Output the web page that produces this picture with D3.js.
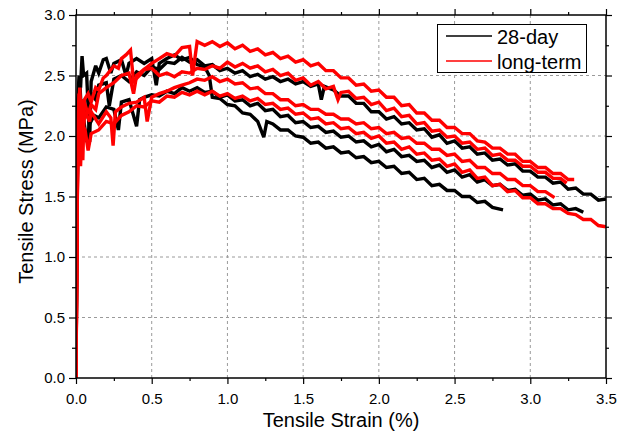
<!DOCTYPE html>
<html>
<head>
<meta charset="utf-8">
<script src="https://cdn.jsdelivr.net/npm/d3@7/dist/d3.min.js"></script>
<style>
  html, body { margin: 0; padding: 0; background: #fff; }
  svg { display: block; font-family: "Liberation Sans", Arial, Helvetica, sans-serif; }
</style>
</head>
<body>
<svg id="chart" width="617" height="432"></svg>
<script>
// ---- Data (strain %, stress MPa) ----
const xTicks = [0, 0.5, 1.0, 1.5, 2.0, 2.5, 3.0, 3.5];
const xMinorTicks = [0.25, 0.75, 1.25, 1.75, 2.25, 2.75, 3.25];
const yTicks = [0, 0.5, 1.0, 1.5, 2.0, 2.5, 3.0];
const yMinorTicks = [0.25, 0.75, 1.25, 1.75, 2.25, 2.75];
const legendLabels = ["28-day", "long-term"];
const seriesColors = ["#000000", "#ff0000"];

const black1 = [[0,0],[0.008,1.6],[0.015,2.3],[0.025,2.45],[0.035,2.2],[0.05,2.3],[0.07,2.15],[0.1,2.35],[0.13,2.3],[0.15,2.42],[0.2,2.44],[0.22,2.25],[0.25,2.47],[0.3,2.5],[0.35,2.45],[0.4,2.53],[0.45,2.5],[0.5,2.57],[0.55,2.55],[0.6,2.61],[0.65,2.6],[0.7,2.65],[0.75,2.61],[0.8,2.63],[0.85,2.58],[0.9,2.59],[0.95,2.54],[1.0,2.56],[1.05,2.52],[1.1,2.54],[1.15,2.49],[1.2,2.51],[1.25,2.47],[1.3,2.49],[1.35,2.45],[1.4,2.47],[1.45,2.43],[1.5,2.45],[1.55,2.41],[1.6,2.43],[1.62,2.3],[1.64,2.41],[1.7,2.38],[1.75,2.33],[1.8,2.33],[1.85,2.27],[1.9,2.27],[1.95,2.2],[2.0,2.2],[2.05,2.14],[2.1,2.16],[2.15,2.1],[2.2,2.11],[2.25,2.05],[2.3,2.06],[2.35,1.99],[2.4,2.01],[2.45,1.94],[2.5,1.96],[2.55,1.9],[2.6,1.91],[2.65,1.85],[2.7,1.86],[2.75,1.8],[2.8,1.81],[2.85,1.76],[2.9,1.77],[2.95,1.71],[3.0,1.71],[3.05,1.66],[3.1,1.66],[3.15,1.61],[3.2,1.62],[3.25,1.56],[3.3,1.57],[3.35,1.52],[3.4,1.52],[3.45,1.47],[3.5,1.48]];

const black2 = [[0,0],[0.006,1.5],[0.012,2.3],[0.02,2.5],[0.03,2.4],[0.04,2.66],[0.05,2.5],[0.07,2.52],[0.09,1.95],[0.1,2.45],[0.13,2.58],[0.15,2.52],[0.18,2.63],[0.2,2.64],[0.23,2.52],[0.25,2.6],[0.3,2.63],[0.33,2.5],[0.35,2.6],[0.4,2.64],[0.45,2.6],[0.5,2.64],[0.53,2.42],[0.55,2.6],[0.6,2.64],[0.65,2.67],[0.7,2.63],[0.75,2.65],[0.8,2.59],[0.85,2.57],[0.88,2.5],[0.9,2.32],[0.95,2.31],[1.0,2.26],[1.05,2.25],[1.1,2.19],[1.15,2.18],[1.2,2.12],[1.24,1.99],[1.26,2.12],[1.3,2.1],[1.35,2.05],[1.4,2.05],[1.45,2.0],[1.5,1.99],[1.55,1.94],[1.6,1.95],[1.65,1.9],[1.7,1.91],[1.75,1.86],[1.8,1.87],[1.85,1.82],[1.9,1.83],[1.95,1.78],[2.0,1.79],[2.05,1.74],[2.1,1.75],[2.15,1.69],[2.2,1.7],[2.25,1.64],[2.3,1.65],[2.35,1.59],[2.4,1.6],[2.45,1.55],[2.5,1.55],[2.55,1.5],[2.6,1.5],[2.65,1.45],[2.7,1.46],[2.75,1.41],[2.82,1.39]];

const black3 = [[0,0],[0.006,1.3],[0.012,2.0],[0.02,2.2],[0.03,2.0],[0.05,2.15],[0.07,1.95],[0.09,2.1],[0.12,2.17],[0.15,2.15],[0.2,2.24],[0.25,2.22],[0.28,2.05],[0.3,2.28],[0.35,2.3],[0.4,2.08],[0.42,2.3],[0.45,2.32],[0.5,2.34],[0.55,2.33],[0.6,2.37],[0.65,2.35],[0.7,2.4],[0.75,2.37],[0.8,2.4],[0.85,2.36],[0.9,2.37],[0.95,2.32],[1.0,2.34],[1.05,2.29],[1.1,2.3],[1.15,2.25],[1.2,2.27],[1.25,2.21],[1.3,2.22],[1.35,2.16],[1.4,2.17],[1.45,2.11],[1.5,2.12],[1.55,2.07],[1.6,2.08],[1.65,2.03],[1.7,2.04],[1.75,1.99],[1.8,2.0],[1.85,1.95],[1.9,1.96],[1.95,1.91],[2.0,1.93],[2.05,1.87],[2.1,1.89],[2.15,1.83],[2.2,1.84],[2.25,1.79],[2.3,1.8],[2.35,1.74],[2.4,1.76],[2.45,1.7],[2.5,1.72],[2.55,1.66],[2.6,1.68],[2.65,1.62],[2.7,1.64],[2.75,1.59],[2.8,1.6],[2.85,1.55],[2.9,1.56],[2.95,1.51],[3.0,1.52],[3.05,1.47],[3.1,1.48],[3.15,1.43],[3.2,1.44],[3.25,1.39],[3.3,1.4],[3.35,1.37]];

const red1 = [[0,0],[0.005,1.0],[0.012,2.0],[0.02,2.35],[0.035,2.2],[0.045,1.8],[0.055,2.3],[0.08,2.35],[0.1,2.28],[0.13,2.4],[0.15,2.38],[0.18,2.48],[0.2,2.5],[0.25,2.58],[0.28,2.56],[0.3,2.64],[0.33,2.67],[0.36,2.71],[0.38,2.45],[0.42,2.5],[0.45,2.55],[0.5,2.6],[0.55,2.64],[0.6,2.68],[0.65,2.66],[0.7,2.73],[0.75,2.74],[0.77,2.5],[0.8,2.78],[0.85,2.75],[0.9,2.78],[0.95,2.74],[1.0,2.77],[1.05,2.72],[1.1,2.75],[1.15,2.7],[1.2,2.72],[1.25,2.67],[1.3,2.69],[1.35,2.64],[1.4,2.66],[1.45,2.61],[1.5,2.63],[1.55,2.58],[1.6,2.6],[1.65,2.54],[1.7,2.54],[1.75,2.48],[1.8,2.48],[1.85,2.42],[1.9,2.43],[1.95,2.37],[2.0,2.38],[2.05,2.32],[2.1,2.32],[2.15,2.25],[2.2,2.26],[2.25,2.19],[2.3,2.19],[2.35,2.13],[2.4,2.13],[2.45,2.07],[2.5,2.07],[2.55,2.02],[2.6,2.02],[2.65,1.96],[2.7,1.95],[2.75,1.9],[2.8,1.9],[2.85,1.85],[2.9,1.85],[2.95,1.79],[3.0,1.79],[3.05,1.74],[3.1,1.74],[3.15,1.69],[3.2,1.69],[3.25,1.64],[3.29,1.64]];

const red2 = [[0,0],[0.008,1.5],[0.015,2.2],[0.025,2.4],[0.035,2.1],[0.05,2.3],[0.08,2.18],[0.1,2.26],[0.13,2.22],[0.15,2.35],[0.2,2.4],[0.25,2.44],[0.3,2.5],[0.35,2.52],[0.38,2.35],[0.4,2.5],[0.45,2.55],[0.5,2.56],[0.55,2.5],[0.6,2.52],[0.65,2.49],[0.7,2.53],[0.75,2.52],[0.8,2.56],[0.85,2.55],[0.9,2.58],[0.95,2.56],[1.0,2.61],[1.05,2.57],[1.1,2.6],[1.15,2.56],[1.2,2.58],[1.25,2.53],[1.3,2.55],[1.35,2.5],[1.4,2.52],[1.45,2.46],[1.5,2.48],[1.55,2.42],[1.6,2.45],[1.65,2.39],[1.7,2.41],[1.73,2.3],[1.75,2.36],[1.8,2.37],[1.85,2.31],[1.9,2.32],[1.95,2.26],[2.0,2.28],[2.05,2.21],[2.1,2.23],[2.15,2.16],[2.2,2.17],[2.25,2.1],[2.3,2.11],[2.35,2.04],[2.4,2.05],[2.45,1.99],[2.5,2.0],[2.55,1.94],[2.6,1.95],[2.65,1.89],[2.7,1.9],[2.75,1.84],[2.8,1.85],[2.85,1.8],[2.9,1.8],[2.95,1.75],[3.0,1.75],[3.05,1.7],[3.1,1.7],[3.15,1.65],[3.2,1.65],[3.24,1.61]];

const red3 = [[0,0],[0.008,1.4],[0.015,2.1],[0.025,2.3],[0.04,2.0],[0.06,2.2],[0.09,2.12],[0.1,2.2],[0.15,2.1],[0.2,2.2],[0.23,2.15],[0.245,1.92],[0.26,2.2],[0.3,2.24],[0.35,2.27],[0.4,2.28],[0.45,2.32],[0.47,2.12],[0.5,2.32],[0.55,2.35],[0.6,2.37],[0.65,2.4],[0.7,2.42],[0.75,2.44],[0.8,2.47],[0.85,2.46],[0.9,2.49],[0.95,2.45],[1.0,2.47],[1.05,2.43],[1.1,2.44],[1.15,2.39],[1.2,2.4],[1.25,2.35],[1.3,2.35],[1.35,2.3],[1.4,2.3],[1.45,2.25],[1.5,2.26],[1.55,2.22],[1.6,2.22],[1.65,2.18],[1.7,2.18],[1.75,2.14],[1.8,2.14],[1.85,2.1],[1.9,2.11],[1.95,2.06],[2.0,2.07],[2.05,2.02],[2.1,2.03],[2.15,1.98],[2.2,1.99],[2.25,1.94],[2.3,1.94],[2.35,1.89],[2.4,1.89],[2.45,1.84],[2.5,1.85],[2.55,1.79],[2.6,1.8],[2.65,1.74],[2.7,1.74],[2.75,1.69],[2.8,1.69],[2.85,1.64],[2.9,1.64],[2.95,1.59],[3.0,1.59],[3.05,1.54],[3.1,1.54],[3.16,1.49]];

const red4 = [[0,0],[0.006,1.2],[0.012,1.9],[0.02,2.2],[0.03,1.75],[0.04,2.1],[0.06,2.05],[0.08,1.88],[0.1,2.02],[0.15,2.05],[0.2,2.12],[0.25,2.1],[0.3,2.17],[0.35,2.2],[0.4,2.25],[0.45,2.24],[0.5,2.29],[0.55,2.28],[0.6,2.33],[0.65,2.32],[0.7,2.36],[0.75,2.34],[0.8,2.37],[0.85,2.34],[0.9,2.37],[0.95,2.33],[1.0,2.35],[1.05,2.31],[1.1,2.33],[1.15,2.29],[1.2,2.31],[1.25,2.26],[1.3,2.27],[1.35,2.22],[1.4,2.23],[1.45,2.18],[1.5,2.19],[1.55,2.14],[1.6,2.15],[1.65,2.1],[1.7,2.11],[1.75,2.06],[1.8,2.07],[1.85,2.02],[1.9,2.03],[1.95,1.98],[2.0,2.0],[2.05,1.94],[2.1,1.95],[2.15,1.89],[2.2,1.91],[2.25,1.85],[2.3,1.86],[2.35,1.8],[2.4,1.81],[2.45,1.75],[2.5,1.77],[2.55,1.7],[2.6,1.72],[2.65,1.65],[2.7,1.66],[2.75,1.59],[2.8,1.6],[2.85,1.54],[2.9,1.55],[2.95,1.49],[3.0,1.49],[3.05,1.44],[3.1,1.44],[3.15,1.4],[3.2,1.4],[3.25,1.36],[3.3,1.35],[3.35,1.31],[3.4,1.31],[3.45,1.26],[3.5,1.25]];

const curves28day = [black1, black2, black3];
const curvesLongTerm = [red1, red2, red3, red4];

// ---- Drawing ----
const svg = d3.select("#chart");
const x = d3.scaleLinear().domain([0, 3.5]).range([76, 606]);
const y = d3.scaleLinear().domain([0, 3.0]).range([378, 15]);
const fmt = d3.format(".1f");

// grid
const grid = svg.append("g").attr("stroke", "#9a9a9a").attr("stroke-width", 1).attr("stroke-dasharray", "3,3");
grid.selectAll("line.gx").data(xTicks.filter(v => v > 0 && v < 3.5)).join("line")
  .attr("x1", d => x(d)).attr("x2", d => x(d)).attr("y1", y(0)).attr("y2", y(3));
grid.selectAll("line.gy").data(yTicks.filter(v => v > 0 && v < 3)).join("line")
  .attr("y1", d => y(d)).attr("y2", d => y(d)).attr("x1", x(0)).attr("x2", x(3.5));

// curves
svg.append("clipPath").attr("id", "plotclip").append("rect")
  .attr("x", x(0)).attr("y", y(3)).attr("width", x(3.5) - x(0)).attr("height", y(0) - y(3));
const line = d3.line().x(d => x(d[0])).y(d => y(d[1]));
const cg = svg.append("g").attr("clip-path", "url(#plotclip)").attr("fill", "none")
  .attr("stroke-linejoin", "miter").attr("stroke-miterlimit", 3);
cg.selectAll("path.b").data(curves28day).join("path").attr("class", "b")
  .attr("d", line).attr("stroke", seriesColors[0]).attr("stroke-width", 3.4);
cg.selectAll("path.r").data(curvesLongTerm).join("path").attr("class", "r")
  .attr("d", line).attr("stroke", seriesColors[1]).attr("stroke-width", 3.4);

// axes
function styleAxis(g) {
  g.select(".domain").remove();
  g.selectAll("line").attr("stroke", "#000").attr("stroke-width", 1.2);
  g.selectAll("text").attr("font-size", 15).attr("fill", "#000")
    .attr("font-family", "'Liberation Sans', Arial, sans-serif");
}
svg.append("g").attr("transform", `translate(0,${y(0)})`)
  .call(d3.axisBottom(x).tickValues(xTicks).tickFormat(fmt).tickSize(6).tickPadding(9)).call(styleAxis);
svg.append("g").attr("transform", `translate(0,${y(0)})`)
  .call(d3.axisBottom(x).tickValues(xMinorTicks).tickFormat("").tickSize(3)).call(styleAxis);
svg.append("g").attr("transform", `translate(${x(0)},0)`)
  .call(d3.axisLeft(y).tickValues(yTicks).tickFormat(fmt).tickSize(7).tickPadding(4)).call(styleAxis);
svg.append("g").attr("transform", `translate(${x(0)},0)`)
  .call(d3.axisLeft(y).tickValues(yMinorTicks).tickFormat("").tickSize(4)).call(styleAxis);
svg.append("g").attr("transform", `translate(0,${y(3)})`)
  .call(d3.axisTop(x).tickValues(xTicks).tickFormat("").tickSize(6)).call(styleAxis);
svg.append("g").attr("transform", `translate(0,${y(3)})`)
  .call(d3.axisTop(x).tickValues(xMinorTicks).tickFormat("").tickSize(3)).call(styleAxis);
svg.append("g").attr("transform", `translate(${x(3.5)},0)`)
  .call(d3.axisRight(y).tickValues(yTicks).tickFormat("").tickSize(6)).call(styleAxis);
svg.append("g").attr("transform", `translate(${x(3.5)},0)`)
  .call(d3.axisRight(y).tickValues(yMinorTicks).tickFormat("").tickSize(3)).call(styleAxis);

// frame
svg.append("rect").attr("x", x(0)).attr("y", y(3)).attr("width", x(3.5) - x(0)).attr("height", y(0) - y(3))
  .attr("fill", "none").attr("stroke", "#000").attr("stroke-width", 1.5);

// axis titles
svg.append("text").attr("x", 341).attr("y", 427).attr("text-anchor", "middle")
  .attr("font-size", 20).attr("fill", "#000").text("Tensile Strain (%)");
svg.append("text").attr("transform", "translate(33,191.5) rotate(-90)").attr("text-anchor", "middle")
  .attr("font-size", 20).attr("fill", "#000").text("Tensile Stress (MPa)");

// legend
const lg = svg.append("g");
lg.append("rect").attr("x", 437.5).attr("y", 24.5).attr("width", 149).attr("height", 48)
  .attr("fill", "#fff").attr("stroke", "#000").attr("stroke-width", 1);
legendLabels.forEach((lab, i) => {
  const ly = 36 + i * 25;
  lg.append("line").attr("x1", 446).attr("x2", 492).attr("y1", ly).attr("y2", ly)
    .attr("stroke", seriesColors[i]).attr("stroke-width", 1.5);
  lg.append("text").attr("x", 497).attr("y", ly + 8).attr("font-size", 20).attr("fill", "#000").text(lab);
});
</script>
</body>
</html>
